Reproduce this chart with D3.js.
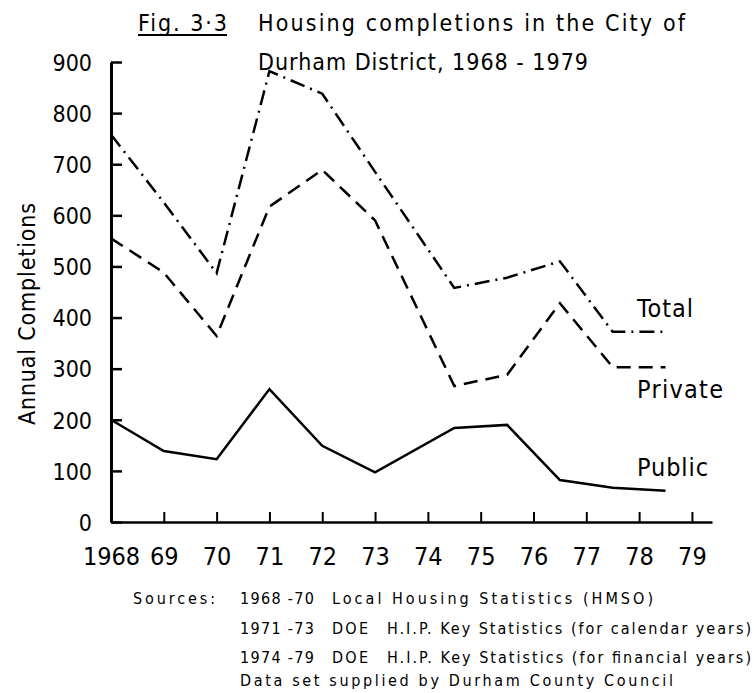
<!DOCTYPE html>
<meta charset="utf-8">
<style>
body { margin: 0; background: #fff; }
svg { display: block; }
text { font-family: "DejaVu Sans Condensed", "DejaVu Sans", sans-serif; font-stretch: condensed; fill: #000; }
</style>
<script src="https://d3js.org/d3.v7.min.js"></script>
<body>
<div id="chart"></div>
<script>
// years (financial years from 1974 are plotted mid-way between ticks)
var years   = [1968, 1969, 1970, 1971, 1972, 1973, 1974.5, 1975.5, 1976.5, 1977.5, 1978.5];
var publicC  = [200, 139, 123, 260, 149, 97, 184, 190, 82, 67, 61];
var privateC = [555, 488, 364, 617, 689, 590, 266, 288, 428, 303, 303];
var totalC   = [758, 625, 487, 882, 838, 685, 458, 478, 510, 372, 372];

var xTicks = [1968, 1969, 1970, 1971, 1972, 1973, 1974, 1975, 1976, 1977, 1978, 1979];
var yTicks = [0, 100, 200, 300, 400, 500, 600, 700, 800, 900];

var W = 754, H = 693;
var svg = d3.select("#chart").append("svg").attr("width", W).attr("height", H);

var x = d3.scaleLinear().domain([1968, 1979.38]).range([111, 712]);
var y = d3.scaleLinear().domain([0, 900]).range([522, 62]);

// axes
var xAxis = d3.axisBottom(x).tickValues(xTicks).tickSizeInner(-10).tickSizeOuter(0)
    .tickFormat(function(d) { return d == 1968 ? "1968" : String(d).slice(2); });
var gx = svg.append("g").attr("transform", "translate(0," + y(0) + ")").call(xAxis);
gx.select(".domain").attr("stroke-width", 2.5);
gx.selectAll(".tick line").attr("stroke-width", 2);
gx.selectAll(".tick text").attr("y", 43).attr("dy", 0).style("font-size", "25px")
    .style("font-family", null);

var yAxis = d3.axisLeft(y).tickValues(yTicks).tickSizeInner(-11).tickSizeOuter(0).tickPadding(19);
var gy = svg.append("g").attr("transform", "translate(" + x(1968) + ",0)").call(yAxis);
gy.select(".domain").attr("stroke-width", 3);
gy.selectAll(".tick line").attr("stroke-width", 2.5);
gy.selectAll(".tick text").style("font-size", "23px").style("font-family", null).attr("dy", "0.36em");

// lines
var series = [
  { name: "Public",  vals: publicC,  dash: null },
  { name: "Private", vals: privateC, dash: "14,8" },
  { name: "Total",   vals: totalC,   dash: "15,6,2,6" }
];
var line = d3.line().x(function(d, i) { return x(years[i]); }).y(function(d) { return y(d); });
svg.selectAll("path.series").data(series).enter().append("path")
  .attr("class", "series")
  .attr("d", function(s) { return line(s.vals); })
  .attr("fill", "none")
  .attr("stroke", "#000")
  .attr("stroke-width", 2.5)
  .attr("stroke-dasharray", function(s) { return s.dash; });

// series labels
svg.append("text").attr("x", 637).attr("y", 317).style("font-size", "25px").attr("textLength", 56).text("Total");
svg.append("text").attr("x", 637).attr("y", 398).style("font-size", "25px").attr("textLength", 86).text("Private");
svg.append("text").attr("x", 637).attr("y", 476).style("font-size", "25px").attr("textLength", 71).text("Public");

// y title
svg.append("text").attr("transform", "translate(35,425) rotate(-90)")
  .style("font-size", "23px").attr("textLength", 222).text("Annual Completions");

// title
svg.append("text").attr("x", 138).attr("y", 31).style("font-size", "23px").attr("textLength", 89).text("Fig. 3·3");
svg.append("line").attr("x1", 138).attr("x2", 227).attr("y1", 35).attr("y2", 35).attr("stroke", "#000").attr("stroke-width", 2);
svg.append("text").attr("x", 258).attr("y", 31).style("font-size", "23px").attr("textLength", 427).text("Housing completions in the City of");
svg.append("text").attr("x", 258).attr("y", 70).style("font-size", "23px").attr("textLength", 330).text("Durham District, 1968 - 1979");

// sources
var src = svg.append("g").style("font-size", "16px");
src.append("text").attr("x", 133).attr("y", 604).attr("textLength", 82).text("Sources:");
src.append("text").attr("x", 240).attr("y", 604).attr("textLength", 74).text("1968 -70");
src.append("text").attr("x", 332).attr("y", 604).attr("textLength", 321).text("Local Housing Statistics (HMSO)");
src.append("text").attr("x", 240).attr("y", 634).attr("textLength", 74).text("1971 -73");
src.append("text").attr("x", 332).attr("y", 634).attr("textLength", 36).text("DOE");
src.append("text").attr("x", 387).attr("y", 634).attr("textLength", 364).text("H.I.P. Key Statistics (for calendar years)");
src.append("text").attr("x", 240).attr("y", 663).attr("textLength", 74).text("1974 -79");
src.append("text").attr("x", 332).attr("y", 663).attr("textLength", 36).text("DOE");
src.append("text").attr("x", 387).attr("y", 663).attr("textLength", 364).text("H.I.P. Key Statistics (for financial years)");
src.append("text").attr("x", 240).attr("y", 686).attr("textLength", 433).text("Data set supplied by Durham County Council");
</script>
</body>
